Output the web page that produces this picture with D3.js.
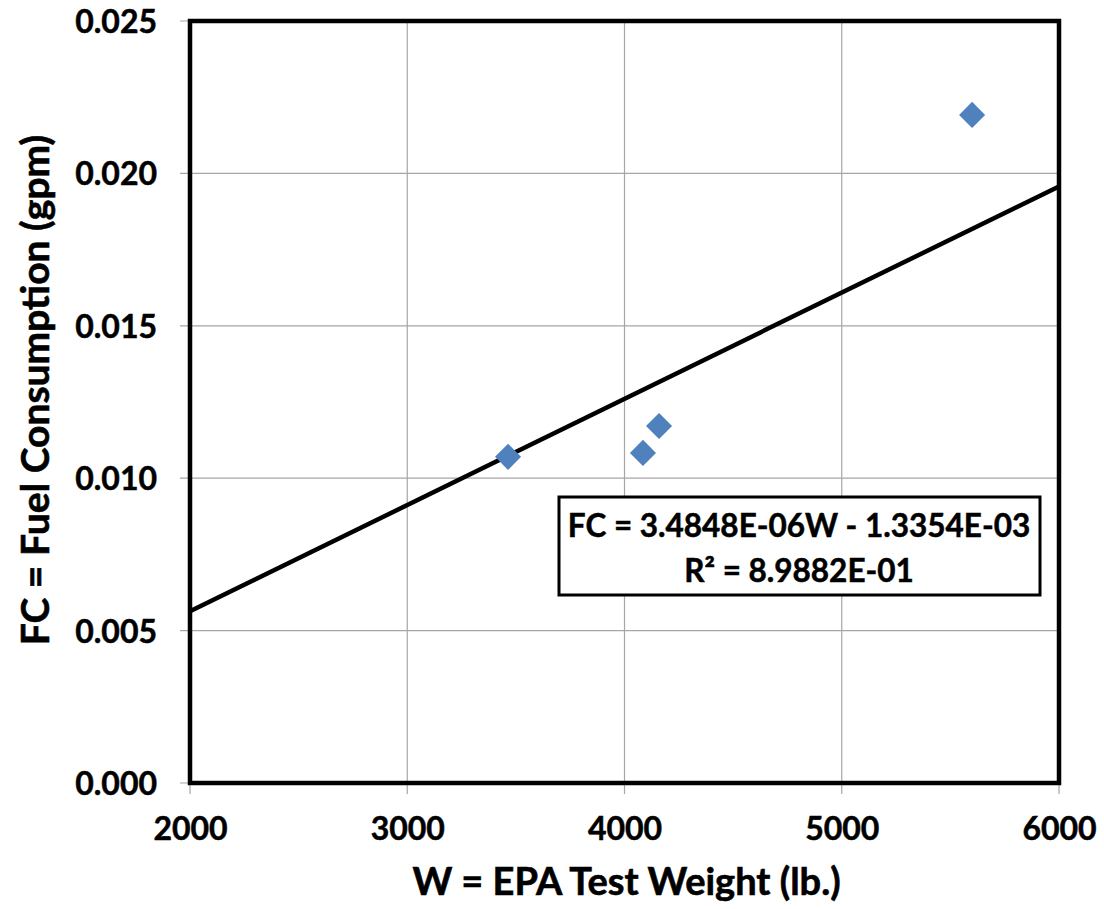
<!DOCTYPE html>
<html lang="en">

<head>
  <title>Fuel consumption vs test weight</title>
  <script src="https://cdn.jsdelivr.net/npm/d3@7"></script>
  <style>
    body { margin: 0; background: #fff; }
    text { font-family: Lato, "Open Sans", sans-serif; font-weight: bold; fill: #000; }
  </style>
</head>

<body>
  <script>
    // data
    var weights = [3464, 4085, 4159, 5600];
    var fuel = [0.01070, 0.01083, 0.01171, 0.02192];
    var xTicks = [2000, 3000, 4000, 5000, 6000];
    var yTicks = [0.000, 0.005, 0.010, 0.015, 0.020, 0.025];
    var slope = 3.4848e-06;
    var intercept = -1.3354e-03;
    var eqLines = ["FC = 3.4848E-06W - 1.3354E-03", "R\u00B2 = 8.9882E-01"];

    var w = 1104;
    var h = 909;
    var margin = { top: 21, left: 190, right: 45, bottom: 126 };
    var width = w - margin.left - margin.right;
    var height = h - margin.top - margin.bottom;

    var svg = d3.select("body").append("svg")
                .attr("width", w)
                .attr("height", h);
    var chart = svg.append("g")
                   .attr("transform", "translate(" + margin.left + "," + margin.top + ")");

    var x = d3.scaleLinear().domain([2000, 6000]).range([0, width]);
    var y = d3.scaleLinear().domain([0, 0.025]).range([height, 0]);

    // gridlines (they poke out a little as tick marks)
    chart.append("g")
         .selectAll("line")
         .data(xTicks)
         .enter().append("line")
         .attr("x1", function (d) { return x(d); })
         .attr("x2", function (d) { return x(d); })
         .attr("y1", 0)
         .attr("y2", height + 11)
         .attr("stroke", "#a6a6a6")
         .attr("stroke-width", 1.2);
    chart.append("g")
         .selectAll("line")
         .data(yTicks)
         .enter().append("line")
         .attr("x1", -10)
         .attr("x2", width)
         .attr("y1", function (d) { return y(d); })
         .attr("y2", function (d) { return y(d); })
         .attr("stroke", "#a6a6a6")
         .attr("stroke-width", 1.2);

    // tick labels
    var xAxis = d3.axisBottom(x).tickValues(xTicks).tickSize(0).tickPadding(45)
                  .tickFormat(d3.format("d"));
    var gx = chart.append("g")
                  .attr("transform", "translate(0," + height + ")")
                  .call(xAxis);
    var yAxis = d3.axisLeft(y).tickValues(yTicks).tickSize(0).tickPadding(33)
                  .tickFormat(d3.format(".3f"));
    var gy = chart.append("g").call(yAxis);
    [gx, gy].forEach(function (g) {
      g.select(".domain").remove();
      g.selectAll("text")
       .style("font-family", "Lato, 'Open Sans', sans-serif")
       .style("font-weight", "bold")
       .style("font-size", "32px")
       .attr("fill", "#000")
       .attr("stroke", "#000")
       .attr("stroke-width", 0.5);
    });
    gx.selectAll("text").attr("dy", "0.36em");
    gy.selectAll("text").attr("dy", "0.36em");

    // trendline
    chart.append("clipPath").attr("id", "clip")
         .append("rect").attr("width", width).attr("height", height);
    var xDomain = x.domain();
    chart.append("line")
         .attr("clip-path", "url(#clip)")
         .attr("x1", x(xDomain[0]))
         .attr("y1", y(slope * xDomain[0] + intercept))
         .attr("x2", x(xDomain[1]))
         .attr("y2", y(slope * xDomain[1] + intercept))
         .attr("stroke", "#000")
         .attr("stroke-width", 4.5);

    // points
    var diamond = d3.symbol().type(d3.symbolSquare).size(340);
    chart.selectAll(".pt")
         .data(weights)
         .enter().append("path")
         .attr("class", "pt")
         .attr("d", diamond)
         .attr("transform", function (d, i) {
           return "translate(" + x(d) + "," + y(fuel[i]) + ") rotate(45)";
         })
         .attr("fill", "#4f81bd");

    // frame
    chart.append("rect")
         .attr("width", width)
         .attr("height", height)
         .attr("fill", "none")
         .attr("stroke", "#000")
         .attr("stroke-width", 4.5);

    // equation box
    var box = chart.append("g").attr("transform", "translate(" + (559 - margin.left) + "," + (497 - margin.top) + ")");
    box.append("rect")
       .attr("width", 481)
       .attr("height", 98)
       .attr("fill", "#fff")
       .attr("stroke", "#000")
       .attr("stroke-width", 3);
    box.selectAll("text")
       .data(eqLines)
       .enter().append("text")
       .attr("x", 240)
       .attr("y", function (d, i) { return 40 + i * 45; })
       .attr("text-anchor", "middle")
       .attr("stroke", "#000")
       .attr("stroke-width", 0.5)
       .style("font-size", "31.5px")
       .text(function (d) { return d; });

    // axis titles
    svg.append("text")
       .attr("x", margin.left + width / 2 + 2)
       .attr("y", 895)
       .attr("text-anchor", "middle")
       .attr("stroke", "#000")
       .attr("stroke-width", 0.6)
       .style("font-size", "38px")
       .text("W = EPA Test Weight (lb.)");
    svg.append("text")
       .attr("transform", "translate(49,390) rotate(-90)")
       .attr("text-anchor", "middle")
       .attr("stroke", "#000")
       .attr("stroke-width", 0.6)
       .style("font-size", "39px")
       .text("FC = Fuel Consumption (gpm)");
  </script>
</body>

</html>
